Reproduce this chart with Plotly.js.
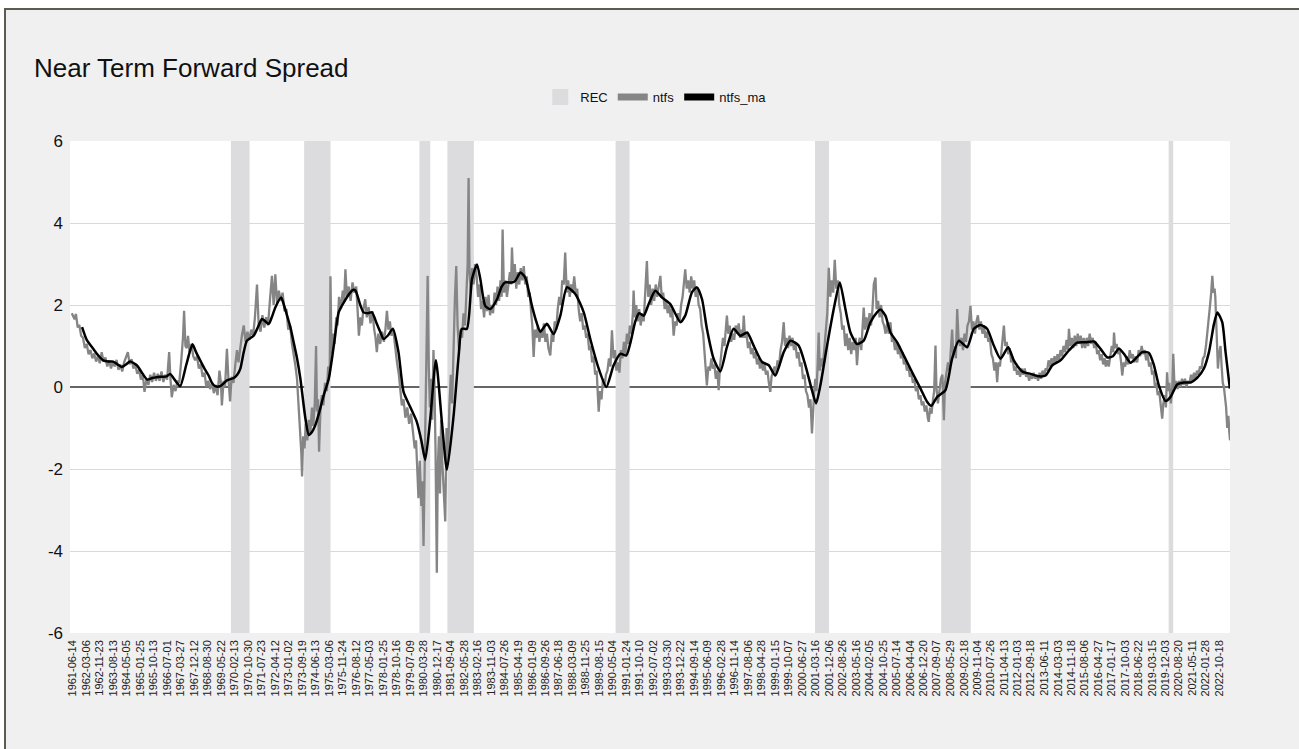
<!DOCTYPE html>
<html>
<head>
<meta charset="utf-8">
<script src="https://cdn.plot.ly/plotly-3.0.1.min.js"></script>
<style>
  html, body { margin:0; padding:0; background:#ffffff; }
  #panel { position:absolute; left:4px; top:8px; width:1300px; height:745px; background:#f0f0f0;
           border-top:2px solid #5b5b52; border-left:2px solid #5b5b52; }
  #chart { position:absolute; left:0; top:0; width:1299px; height:749px; }
</style>
</head>
<body>
<div id="panel"></div>
<div id="chart"></div>
<script>
// ---------------- DATA ----------------
const tickLabels = ["1961-06-14","1962-03-06","1962-11-23","1963-08-13","1964-05-05","1965-01-25","1965-10-13","1966-07-01","1967-03-27","1967-12-12","1968-08-30","1969-05-22","1970-02-13","1970-10-30","1971-07-23","1972-04-12","1973-01-02","1973-09-19","1974-06-13","1975-03-06","1975-11-24","1976-08-12","1977-05-03","1978-01-25","1978-10-16","1979-07-09","1980-03-28","1980-12-17","1981-09-04","1982-05-28","1983-02-16","1983-11-03","1984-07-26","1985-04-19","1986-01-09","1986-09-26","1987-06-18","1988-03-09","1988-11-25","1989-08-15","1990-05-04","1991-01-24","1991-10-10","1992-07-02","1993-03-30","1993-12-22","1994-09-14","1995-06-09","1996-02-28","1996-11-14","1997-08-06","1998-04-28","1999-01-15","1999-10-07","2000-06-27","2001-03-16","2001-12-06","2002-08-26","2003-05-16","2004-02-05","2004-10-25","2005-07-14","2006-04-04","2006-12-20","2007-09-07","2008-05-29","2009-02-18","2009-11-04","2010-07-26","2011-04-13","2012-01-03","2012-09-18","2013-06-11","2014-03-03","2014-11-18","2015-08-06","2016-04-27","2017-01-17","2017-10-03","2018-06-22","2019-03-15","2019-12-03","2020-08-20","2021-05-11","2022-01-28","2022-10-18"];

const yTickValues = [-6, -4, -2, 0, 2, 4, 6];

// recession periods (start, end)
const recStarts = ["1969-12-01","1973-11-01","1980-01-01","1981-07-01","1990-07-01","2001-03-01","2007-12-01","2020-02-01"];
const recEnds   = ["1970-11-30","1975-03-31","1980-07-31","1982-11-30","1991-03-31","2001-11-30","2009-06-30","2020-04-30"];

// ntfs: [decimal year, value]
const ntfsPoints = [
[1961.40,1.80],[1961.55,1.65],[1961.62,1.78],[1961.72,1.45],[1961.80,1.52],[1961.90,1.25],[1962.00,1.20],[1962.10,0.95],[1962.20,1.05],[1962.30,0.80],
[1962.40,0.90],[1962.50,0.70],[1962.60,0.82],[1962.70,0.62],[1962.80,0.75],[1962.90,0.58],[1963.00,0.85],[1963.10,0.62],[1963.20,0.72],[1963.30,0.50],
[1963.40,0.65],[1963.50,0.45],[1963.60,0.62],[1963.70,0.50],[1963.80,0.66],[1963.90,0.42],[1964.00,0.55],[1964.10,0.38],[1964.20,0.60],[1964.30,0.72],
[1964.40,0.85],[1964.50,0.55],[1964.60,0.68],[1964.70,0.45],[1964.80,0.55],[1964.90,0.32],[1965.00,0.42],[1965.10,0.18],[1965.20,0.30],[1965.29,-0.12],
[1965.40,0.20],[1965.50,0.05],[1965.60,0.30],[1965.70,0.12],[1965.80,0.35],[1965.90,0.15],[1966.00,0.32],[1966.10,0.15],[1966.20,0.38],[1966.30,0.12],
[1966.40,0.30],[1966.50,0.18],[1966.61,0.85],[1966.68,0.20],[1966.75,-0.25],[1966.85,0.05],[1966.95,-0.10],[1967.05,0.15],[1967.15,0.10],[1967.25,0.60],
[1967.35,1.20],[1967.41,1.86],[1967.48,1.00],[1967.55,0.95],[1967.62,1.25],[1967.70,0.85],[1967.80,1.05],[1967.90,0.75],[1968.00,0.65],[1968.10,0.75],
[1968.20,0.45],[1968.30,0.55],[1968.40,0.25],[1968.50,0.35],[1968.60,0.00],[1968.70,0.15],[1968.80,-0.05],[1968.90,0.10],[1969.00,-0.15],[1969.10,0.05],
[1969.20,-0.20],[1969.30,0.40],[1969.38,0.10],[1969.43,-0.45],[1969.52,0.15],[1969.60,0.00],[1969.70,0.93],[1969.78,0.20],[1969.87,-0.35],[1969.95,0.25],
[1970.05,0.10],[1970.15,0.55],[1970.24,0.90],[1970.32,0.60],[1970.42,1.00],[1970.50,1.25],[1970.60,1.50],[1970.70,1.10],[1970.80,1.35],[1970.90,1.15],
[1971.00,1.40],[1971.10,1.25],[1971.20,1.70],[1971.31,2.50],[1971.40,1.50],[1971.50,1.35],[1971.60,1.75],[1971.70,1.45],[1971.80,1.70],[1971.90,1.50],
[1972.00,2.10],[1972.11,2.71],[1972.20,2.00],[1972.29,2.75],[1972.38,2.05],[1972.48,2.35],[1972.58,2.10],[1972.68,2.30],[1972.78,1.85],[1972.88,1.90],
[1972.98,1.40],[1973.08,1.50],[1973.18,1.05],[1973.28,0.80],[1973.36,0.53],[1973.45,0.20],[1973.54,-0.50],[1973.62,-1.00],[1973.68,-1.60],[1973.72,-2.18],
[1973.78,-1.20],[1973.85,-1.50],[1973.92,-0.90],[1974.00,-1.30],[1974.08,-0.80],[1974.16,-1.15],[1974.25,-0.50],[1974.32,-0.95],[1974.40,-0.40],[1974.47,1.00],
[1974.52,-0.60],[1974.58,-0.30],[1974.63,-1.58],[1974.70,-0.60],[1974.78,-0.20],[1974.86,-0.45],[1974.95,0.10],[1975.05,-0.10],[1975.12,0.50],[1975.20,0.30],
[1975.24,2.70],[1975.30,0.80],[1975.38,1.30],[1975.46,1.05],[1975.55,1.70],[1975.62,1.50],[1975.70,2.20],[1975.80,1.90],[1975.90,2.35],[1975.97,2.10],
[1976.04,2.87],[1976.12,2.20],[1976.22,2.45],[1976.32,2.10],[1976.42,2.55],[1976.52,2.30],[1976.62,2.45],[1976.70,1.80],[1976.76,1.25],[1976.84,1.70],
[1976.92,1.50],[1977.00,1.90],[1977.10,2.14],[1977.18,1.70],[1977.28,1.95],[1977.38,1.55],[1977.48,1.85],[1977.58,1.40],[1977.65,1.20],[1977.72,0.85],
[1977.80,1.30],[1977.90,1.05],[1978.00,1.35],[1978.10,1.10],[1978.18,1.40],[1978.26,1.86],[1978.34,1.40],[1978.42,1.60],[1978.50,1.25],[1978.60,1.40],
[1978.70,0.90],[1978.80,0.60],[1978.90,0.30],[1979.00,-0.15],[1979.06,-0.45],[1979.15,-0.30],[1979.25,-0.75],[1979.35,-0.50],[1979.45,-0.90],[1979.55,-0.65],
[1979.65,-1.10],[1979.75,-1.50],[1979.82,-1.30],[1979.88,-2.10],[1979.95,-2.71],[1980.02,-1.80],[1980.10,-2.90],[1980.16,-2.30],[1980.22,-3.88],[1980.28,-2.00],
[1980.34,-0.50],[1980.40,1.00],[1980.44,2.71],[1980.50,0.50],[1980.56,-0.50],[1980.62,0.20],[1980.68,-0.80],[1980.75,0.90],[1980.80,0.10],[1980.86,-1.50],
[1980.93,-4.53],[1980.98,-2.00],[1981.04,-1.20],[1981.10,-2.60],[1981.16,-0.80],[1981.22,-1.80],[1981.30,-2.40],[1981.38,-3.28],[1981.45,-1.00],[1981.52,-1.90],
[1981.60,-0.50],[1981.68,0.30],[1981.75,-0.40],[1981.82,1.20],[1981.90,2.20],[1981.97,2.95],[1982.04,1.50],[1982.12,0.90],[1982.20,1.40],[1982.28,1.20],
[1982.36,1.80],[1982.44,1.50],[1982.52,2.20],[1982.58,3.00],[1982.63,5.10],[1982.68,2.80],[1982.75,2.30],[1982.82,2.90],[1982.90,2.50],[1982.98,3.00],
[1983.06,2.70],[1983.14,2.20],[1983.22,2.50],[1983.30,1.90],[1983.38,2.10],[1983.46,1.70],[1983.54,2.20],[1983.62,1.85],[1983.70,2.25],[1983.78,1.75],
[1983.86,2.00],[1983.94,1.80],[1984.02,2.30],[1984.10,2.00],[1984.18,2.45],[1984.26,2.10],[1984.34,2.60],[1984.40,2.20],[1984.45,3.84],[1984.52,2.30],
[1984.60,2.60],[1984.68,2.20],[1984.76,2.50],[1984.84,2.80],[1984.90,2.50],[1984.95,3.40],[1985.02,2.60],[1985.10,3.00],[1985.18,2.40],[1985.26,2.80],
[1985.34,2.50],[1985.42,2.90],[1985.50,2.60],[1985.58,2.95],[1985.66,2.50],[1985.74,2.70],[1985.82,2.20],[1985.90,2.30],[1985.98,1.80],[1986.04,1.50],
[1986.11,0.73],[1986.18,1.40],[1986.26,1.20],[1986.34,1.50],[1986.42,1.10],[1986.50,1.40],[1986.58,1.20],[1986.66,1.55],[1986.74,1.10],[1986.82,1.30],
[1986.90,0.95],[1987.00,0.77],[1987.08,1.30],[1987.16,1.10],[1987.24,1.60],[1987.32,1.40],[1987.40,1.90],[1987.48,2.20],[1987.56,2.00],[1987.64,2.60],
[1987.72,2.50],[1987.80,3.28],[1987.88,2.30],[1987.96,2.60],[1988.04,2.20],[1988.12,2.50],[1988.20,2.30],[1988.28,2.70],[1988.36,2.30],[1988.44,2.40],
[1988.52,1.90],[1988.60,1.60],[1988.68,1.80],[1988.76,1.40],[1988.84,1.50],[1988.92,1.20],[1989.00,1.30],[1989.08,0.90],[1989.16,1.00],[1989.24,0.60],
[1989.32,0.75],[1989.40,0.30],[1989.48,0.40],[1989.54,0.00],[1989.59,-0.60],[1989.66,-0.10],[1989.74,-0.30],[1989.82,0.20],[1989.90,0.00],[1989.98,0.30],
[1990.06,0.40],[1990.14,0.70],[1990.22,0.50],[1990.30,1.38],[1990.38,0.70],[1990.46,0.90],[1990.54,0.40],[1990.62,0.60],[1990.70,0.35],[1990.78,0.90],
[1990.86,0.70],[1990.94,1.10],[1991.02,0.80],[1991.10,1.30],[1991.18,1.05],[1991.26,1.50],[1991.34,1.30],[1991.42,1.80],[1991.46,2.35],[1991.52,1.70],
[1991.60,2.00],[1991.68,1.60],[1991.76,1.90],[1991.84,1.50],[1991.92,1.80],[1992.00,1.60],[1992.08,2.20],[1992.17,3.07],[1992.24,2.20],[1992.32,2.50],
[1992.40,2.00],[1992.48,2.40],[1992.56,2.10],[1992.64,2.50],[1992.72,2.20],[1992.80,2.50],[1992.89,2.71],[1992.96,2.20],[1993.04,2.30],[1993.12,1.90],
[1993.20,2.10],[1993.28,1.80],[1993.36,2.00],[1993.44,1.70],[1993.52,1.90],[1993.60,1.25],[1993.68,1.60],[1993.76,1.50],[1993.84,1.80],[1993.92,1.60],
[1994.00,2.00],[1994.08,2.20],[1994.15,2.50],[1994.22,2.87],[1994.30,2.40],[1994.38,2.60],[1994.46,2.30],[1994.54,2.70],[1994.62,2.40],[1994.70,2.60],
[1994.78,2.20],[1994.86,2.40],[1994.94,2.00],[1995.02,1.90],[1995.10,1.50],[1995.18,1.30],[1995.26,0.80],[1995.32,0.50],[1995.38,0.04],[1995.46,0.50],
[1995.54,0.40],[1995.62,0.70],[1995.70,0.45],[1995.78,0.55],[1995.86,0.20],[1995.94,0.40],[1996.01,-0.08],[1996.08,0.50],[1996.16,0.80],[1996.24,1.20],
[1996.32,1.00],[1996.40,1.40],[1996.45,1.74],[1996.52,1.30],[1996.60,1.50],[1996.68,1.10],[1996.76,1.30],[1996.84,1.15],[1996.92,1.50],[1997.00,1.30],
[1997.08,1.55],[1997.16,1.20],[1997.24,1.40],[1997.30,1.20],[1997.35,1.74],[1997.42,1.20],[1997.50,1.30],[1997.58,0.95],[1997.66,1.10],[1997.74,0.80],
[1997.82,0.95],[1997.90,0.70],[1997.98,0.85],[1998.06,0.55],[1998.14,0.70],[1998.22,0.45],[1998.30,0.60],[1998.38,0.40],[1998.46,0.55],[1998.54,0.30],
[1998.62,0.40],[1998.69,0.12],[1998.77,-0.12],[1998.84,0.25],[1998.92,0.35],[1999.00,0.50],[1999.08,0.30],[1999.16,0.65],[1999.24,0.50],[1999.32,0.90],
[1999.40,1.10],[1999.49,1.58],[1999.56,1.00],[1999.64,1.20],[1999.72,0.95],[1999.80,1.25],[1999.88,1.00],[1999.96,1.20],[2000.04,0.90],[2000.12,1.05],
[2000.20,0.70],[2000.28,0.85],[2000.36,0.50],[2000.44,0.60],[2000.52,0.20],[2000.60,0.30],[2000.68,-0.10],[2000.76,-0.20],[2000.84,-0.50],[2000.92,-0.30],
[2001.00,-1.13],[2001.06,-0.40],[2001.12,-0.10],[2001.18,0.20],[2001.24,-0.10],[2001.30,0.50],[2001.36,1.33],[2001.42,0.40],[2001.50,0.70],[2001.58,0.50],
[2001.66,1.00],[2001.74,1.30],[2001.82,1.80],[2001.90,2.91],[2001.98,2.20],[2002.06,2.60],[2002.14,2.30],[2002.22,3.10],[2002.30,2.40],[2002.38,2.60],
[2002.46,2.00],[2002.54,1.80],[2002.62,1.40],[2002.70,1.50],[2002.78,1.00],[2002.86,1.30],[2002.94,0.90],[2003.02,1.20],[2003.10,0.80],[2003.18,1.10],
[2003.26,0.90],[2003.34,1.20],[2003.41,0.53],[2003.48,1.00],[2003.56,1.20],[2003.64,0.90],[2003.72,1.40],[2003.77,1.94],[2003.84,1.40],[2003.92,1.70],
[2004.00,1.40],[2004.08,1.80],[2004.16,1.50],[2004.24,1.90],[2004.31,2.51],[2004.40,2.67],[2004.46,1.90],[2004.54,2.10],[2004.62,1.70],[2004.70,2.00],
[2004.78,1.60],[2004.86,1.50],[2004.94,1.30],[2005.02,1.55],[2005.10,1.30],[2005.20,1.58],[2005.28,1.10],[2005.36,1.20],[2005.44,0.90],[2005.52,1.10],
[2005.60,0.80],[2005.68,1.00],[2005.76,0.70],[2005.84,0.85],[2005.92,0.55],[2006.00,0.65],[2006.08,0.40],[2006.16,0.50],[2006.24,0.25],[2006.32,0.35],
[2006.40,0.10],[2006.48,0.20],[2006.56,-0.10],[2006.64,0.00],[2006.72,-0.30],[2006.80,-0.20],[2006.88,-0.45],[2006.96,-0.35],[2007.04,-0.60],[2007.12,-0.45],
[2007.20,-0.75],[2007.25,-0.85],[2007.32,-0.50],[2007.40,-0.65],[2007.48,-0.30],[2007.54,-0.10],[2007.61,1.01],[2007.66,0.00],[2007.74,-0.40],[2007.82,-0.10],
[2007.90,0.20],[2007.98,0.30],[2008.02,-0.20],[2008.06,-0.81],[2008.12,0.10],[2008.20,0.40],[2008.28,0.60],[2008.36,0.40],[2008.44,1.00],[2008.50,1.40],
[2008.56,0.80],[2008.64,1.00],[2008.70,0.70],[2008.77,1.90],[2008.84,1.20],[2008.92,1.00],[2009.00,1.20],[2009.08,0.90],[2009.16,1.30],[2009.24,1.10],
[2009.32,1.50],[2009.40,1.60],[2009.48,1.98],[2009.56,1.40],[2009.64,1.60],[2009.72,1.30],[2009.80,1.60],[2009.88,1.75],[2009.96,1.40],[2010.04,1.60],
[2010.12,1.30],[2010.20,1.50],[2010.28,1.20],[2010.36,1.35],[2010.44,1.10],[2010.52,1.20],[2010.60,0.80],[2010.68,0.70],[2010.76,0.40],[2010.84,0.60],
[2010.91,0.12],[2010.98,0.60],[2011.06,0.50],[2011.14,0.90],[2011.20,1.10],[2011.27,1.50],[2011.34,1.00],[2011.42,1.10],[2011.50,0.80],[2011.58,0.95],
[2011.66,0.60],[2011.74,0.70],[2011.82,0.40],[2011.90,0.50],[2011.98,0.30],[2012.06,0.40],[2012.14,0.25],[2012.22,0.45],[2012.30,0.30],[2012.38,0.45],
[2012.46,0.25],[2012.54,0.35],[2012.62,0.15],[2012.70,0.30],[2012.78,0.20],[2012.86,0.35],[2012.94,0.20],[2013.02,0.30],[2013.10,0.15],[2013.18,0.35],
[2013.26,0.20],[2013.34,0.40],[2013.42,0.25],[2013.50,0.45],[2013.58,0.40],[2013.66,0.65],[2013.74,0.50],[2013.82,0.70],[2013.90,0.55],[2013.98,0.75],
[2014.06,0.60],[2014.14,0.80],[2014.22,0.65],[2014.30,0.90],[2014.38,0.75],[2014.46,1.00],[2014.54,0.85],[2014.62,1.15],[2014.70,0.90],[2014.75,1.42],
[2014.82,1.00],[2014.90,1.20],[2014.98,0.95],[2015.06,1.25],[2015.14,1.00],[2015.22,1.30],[2015.30,1.05],[2015.38,1.25],[2015.46,0.95],[2015.54,1.20],
[2015.62,0.95],[2015.70,1.20],[2015.78,1.00],[2015.86,1.30],[2015.94,1.05],[2016.02,1.20],[2016.10,0.95],[2016.18,1.10],[2016.26,0.80],[2016.34,0.90],
[2016.42,0.65],[2016.50,0.80],[2016.58,0.55],[2016.66,0.70],[2016.72,0.50],[2016.80,0.65],[2016.88,0.50],[2016.96,0.80],[2017.04,1.00],[2017.12,0.85],
[2017.16,1.33],[2017.22,0.95],[2017.30,1.05],[2017.38,0.80],[2017.46,0.90],[2017.54,0.60],[2017.60,0.28],[2017.68,0.60],[2017.76,0.50],[2017.84,0.75],
[2017.92,0.55],[2018.00,0.90],[2018.08,0.70],[2018.16,0.80],[2018.24,0.60],[2018.32,0.75],[2018.40,0.60],[2018.48,0.90],[2018.56,0.75],[2018.64,1.00],
[2018.72,0.80],[2018.80,0.90],[2018.88,0.65],[2018.96,0.80],[2019.04,0.50],[2019.12,0.60],[2019.20,0.30],[2019.28,0.40],[2019.35,0.00],[2019.42,0.10],
[2019.50,-0.20],[2019.58,-0.10],[2019.66,-0.40],[2019.74,-0.77],[2019.80,-0.40],[2019.88,-0.20],[2019.94,-0.50],[2020.00,0.36],[2020.06,-0.10],[2020.12,0.10],
[2020.20,-0.40],[2020.28,0.00],[2020.33,0.81],[2020.40,0.00],[2020.48,0.15],[2020.56,-0.05],[2020.64,0.15],[2020.72,0.00],[2020.80,0.20],[2020.88,0.05],
[2020.96,0.20],[2021.04,0.00],[2021.12,0.15],[2021.20,0.10],[2021.28,0.30],[2021.36,0.15],[2021.44,0.35],[2021.52,0.20],[2021.60,0.40],[2021.68,0.30],
[2021.76,0.50],[2021.84,0.45],[2021.92,0.70],[2022.00,0.75],[2022.08,1.00],[2022.15,1.30],[2022.22,1.50],[2022.30,2.00],[2022.36,2.30],[2022.42,2.71],
[2022.48,2.30],[2022.54,2.40],[2022.58,2.20],[2022.64,1.30],[2022.72,0.45],[2022.78,0.80],[2022.86,1.00],[2022.92,0.50],[2022.98,0.10],[2023.04,0.00],
[2023.10,-0.20],[2023.16,-0.50],[2023.22,-1.00],[2023.28,-0.70],[2023.33,-1.10],[2023.37,-1.30]
];

// ntfs_ma: [decimal year, value]
const maPoints = [
[1961.95,1.46],[1962.20,1.15],[1962.55,0.93],[1962.80,0.78],[1963.08,0.65],[1963.35,0.62],[1963.62,0.62],[1963.85,0.55],[1964.07,0.49],[1964.30,0.55],
[1964.52,0.62],[1964.88,0.53],[1965.15,0.35],[1965.44,0.18],[1965.70,0.22],[1965.94,0.24],[1966.20,0.25],[1966.48,0.26],[1966.66,0.32],[1966.90,0.18],
[1967.20,0.02],[1967.52,0.53],[1967.86,1.04],[1968.05,0.85],[1968.27,0.65],[1968.50,0.45],[1968.72,0.28],[1968.90,0.10],[1969.07,0.02],[1969.34,0.02],
[1969.70,0.16],[1970.06,0.22],[1970.25,0.30],[1970.42,0.45],[1970.60,0.85],[1970.77,1.13],[1971.13,1.25],[1971.35,1.45],[1971.58,1.66],[1971.94,1.54],
[1972.10,1.70],[1972.29,1.94],[1972.60,2.18],[1972.75,2.00],[1972.92,1.74],[1973.10,1.45],[1973.27,1.09],[1973.45,0.70],[1973.63,0.20],[1973.90,-0.77],
[1974.08,-1.17],[1974.25,-1.10],[1974.43,-0.93],[1974.65,-0.60],[1974.88,-0.20],[1975.15,0.20],[1975.42,1.01],[1975.68,1.82],[1975.95,2.06],[1976.31,2.31],
[1976.47,2.37],[1976.58,2.35],[1976.85,1.98],[1977.01,1.82],[1977.25,1.80],[1977.46,1.82],[1977.72,1.54],[1977.90,1.35],[1978.08,1.17],[1978.30,1.25],
[1978.58,1.42],[1978.88,0.85],[1979.15,-0.12],[1979.51,-0.49],[1979.86,-0.85],[1980.10,-1.30],[1980.31,-1.78],[1980.58,-0.77],[1980.88,0.65],[1981.20,-0.85],
[1981.47,-2.02],[1981.83,-0.69],[1982.10,0.77],[1982.27,1.42],[1982.54,1.42],[1982.81,2.63],[1983.08,2.99],[1983.26,2.63],[1983.52,1.98],[1983.79,1.90],
[1984.15,2.14],[1984.40,2.45],[1984.59,2.55],[1984.95,2.55],[1985.13,2.59],[1985.40,2.79],[1985.66,2.67],[1986.02,1.98],[1986.25,1.60],[1986.47,1.35],
[1986.82,1.54],[1987.18,1.29],[1987.54,1.74],[1987.89,2.43],[1988.34,2.27],[1988.79,1.82],[1989.14,1.17],[1989.59,0.45],[1990.00,0.00],[1990.39,0.53],
[1990.75,0.81],[1991.07,0.77],[1991.30,1.10],[1991.55,1.60],[1991.75,1.80],[1992.00,1.74],[1992.26,2.02],[1992.62,2.35],[1992.98,2.18],[1993.42,2.02],
[1993.96,1.58],[1994.22,1.74],[1994.58,2.31],[1994.85,2.43],[1995.12,2.14],[1995.38,1.42],[1995.74,0.69],[1996.10,0.38],[1996.45,0.97],[1996.81,1.42],
[1997.17,1.25],[1997.53,1.33],[1997.88,1.01],[1998.33,0.61],[1998.69,0.53],[1999.04,0.28],[1999.49,0.85],[1999.85,1.13],[2000.29,1.01],[2000.65,0.53],
[2001.00,-0.08],[2001.22,-0.40],[2001.45,0.04],[2001.81,1.01],[2002.20,1.98],[2002.49,2.55],[2002.79,1.90],[2003.06,1.33],[2003.41,1.05],[2003.77,1.13],
[2004.13,1.58],[2004.48,1.82],[2004.67,1.89],[2004.93,1.74],[2005.20,1.33],[2005.56,1.09],[2005.91,0.77],[2006.36,0.36],[2006.81,-0.04],[2007.16,-0.36],
[2007.38,-0.46],[2007.70,-0.24],[2008.14,-0.08],[2008.50,0.69],[2008.86,1.13],[2009.30,0.97],[2009.66,1.42],[2010.02,1.51],[2010.37,1.42],[2010.73,1.01],
[2011.09,0.69],[2011.50,0.97],[2011.80,0.65],[2012.25,0.38],[2012.70,0.32],[2013.14,0.26],[2013.50,0.28],[2013.86,0.53],[2014.30,0.65],[2014.75,0.89],
[2015.19,1.08],[2015.64,1.09],[2016.09,1.11],[2016.44,0.93],[2016.80,0.72],[2017.10,0.75],[2017.42,0.94],[2017.69,0.81],[2018.05,0.59],[2018.31,0.69],
[2018.67,0.85],[2019.03,0.83],[2019.30,0.53],[2019.56,0.04],[2019.92,-0.34],[2020.19,-0.24],[2020.54,0.06],[2020.90,0.11],[2021.26,0.11],[2021.61,0.22],
[2021.97,0.45],[2022.24,0.85],[2022.51,1.54],[2022.69,1.82],[2022.95,1.58],[2023.13,0.85],[2023.36,-0.04]
];

const yMin = -6, yMax = 6;
const recColor = '#dcdcdf', ntfsColor = '#858585', maColor = '#000000';

// ---------------- HELPERS ----------------
function yearToDate(y) {
  const yr = Math.floor(y);
  const a = Date.UTC(yr, 0, 1), b = Date.UTC(yr + 1, 0, 1);
  return new Date(a + (y - yr) * (b - a)).toISOString().slice(0, 19).replace('T', ' ');
}

const recX = [], recY = [];
recStarts.forEach((s, i) => {
  const e = recEnds[i];
  recX.push(s, s, e, e, s, null);
  recY.push(yMin, yMax, yMax, yMin, yMin, null);
});

const traces = [
  { name: 'REC', type: 'scatter', mode: 'lines', x: recX, y: recY, fill: 'toself', showlegend: false,
    fillcolor: recColor, line: { width: 0, color: recColor }, connectgaps: false, hoverinfo: 'skip' },
  { name: 'ntfs', type: 'scatter', mode: 'lines', showlegend: false,
    x: ntfsPoints.map(p => yearToDate(p[0])), y: ntfsPoints.map(p => p[1]),
    line: { color: ntfsColor, width: 2.3 } },
  { name: 'ntfs_ma', type: 'scatter', mode: 'lines', showlegend: false,
    x: maPoints.map(p => yearToDate(p[0])), y: maPoints.map(p => p[1]),
    line: { color: maColor, width: 2.5, shape: 'spline', smoothing: 0.6 } },
  // legend keys (no data drawn)
  { name: 'REC', type: 'scatter', mode: 'markers', x: [null], y: [null],
    marker: { symbol: 'square', size: 16, color: recColor } },
  { name: 'ntfs', type: 'scatter', mode: 'lines', x: [null], y: [null],
    line: { color: ntfsColor, width: 7 } },
  { name: 'ntfs_ma', type: 'scatter', mode: 'lines', x: [null], y: [null],
    line: { color: maColor, width: 7 } }
];

const layout = {
  width: 1299, height: 749,
  paper_bgcolor: 'rgba(0,0,0,0)', plot_bgcolor: '#ffffff',
  font: { family: '"Liberation Sans", Arial, Helvetica, sans-serif', color: '#111111' },
  margin: { l: 70, r: 69, t: 141, b: 116, pad: 0 },
  title: { text: 'Near Term Forward Spread', x: 34 / 1299, xanchor: 'left', xref: 'container',
           y: 1 - 68 / 749, yanchor: 'middle', yref: 'container',
           font: { size: 26, color: '#111111' } },
  showlegend: true,
  legend: { orientation: 'h', x: 0.505, xanchor: 'center', y: 1 - 97 / 749, yanchor: 'middle', yref: 'container',
            font: { size: 13, color: '#111111' }, bgcolor: 'rgba(0,0,0,0)', itemwidth: 30, tracegroupgap: 0 },
  xaxis: {
    type: 'date', range: ['1961-04-22', '2023-05-15'],
    tickmode: 'array', tickvals: tickLabels, ticktext: tickLabels,
    tickangle: -90, tickfont: { size: 11, color: '#222222' },
    showgrid: false, zeroline: false, showline: false, ticks: '', ticklabelstandoff: 4, automargin: false
  },
  yaxis: {
    range: [yMin, yMax], tickmode: 'array', tickvals: yTickValues, ticktext: yTickValues.map(v => String(v)),
    showgrid: true, gridcolor: '#d9d9d9', gridwidth: 1,
    zeroline: true, zerolinecolor: '#666666', zerolinewidth: 1.2,
    showline: false, ticks: '', tickfont: { size: 17, color: '#111111' }, ticklabelstandoff: 6, automargin: false
  },
  hovermode: false
};

Plotly.newPlot('chart', traces, layout, { displayModeBar: false, staticPlot: true });
</script>
</body>
</html>
